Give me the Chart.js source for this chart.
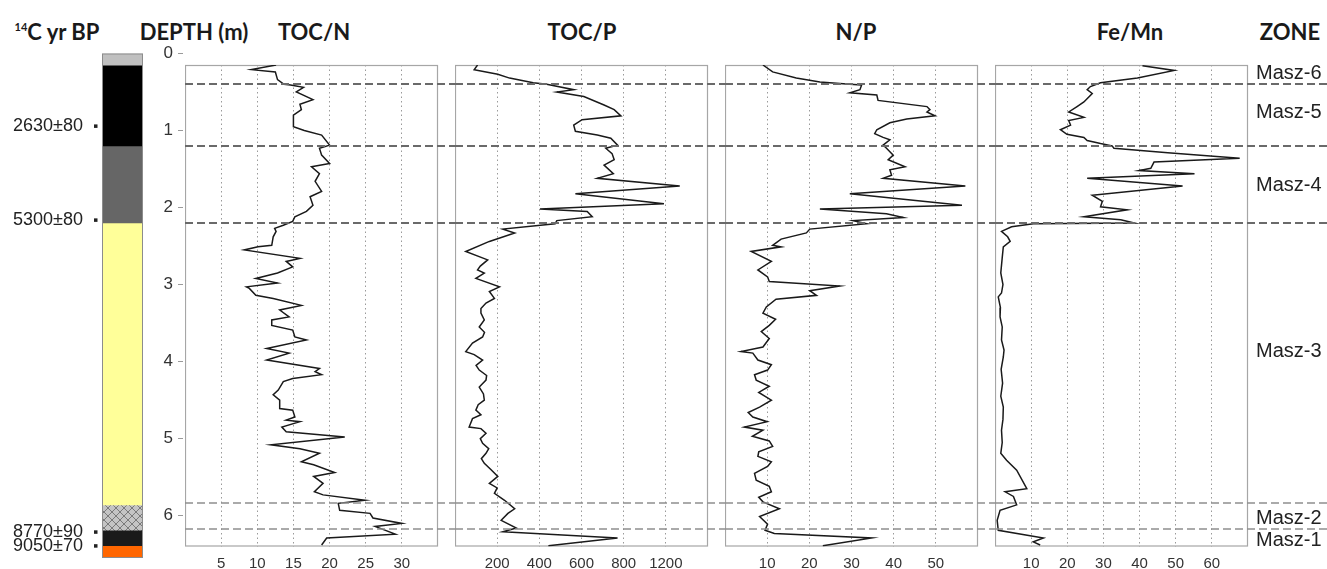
<!DOCTYPE html>
<html>
<head>
<meta charset="utf-8">
<script src="https://cdn.jsdelivr.net/npm/chart.js@4"></script>
<style>
  body { margin: 0; background: #fff; }
  #wrap { position: relative; width: 1327px; height: 569px; overflow: hidden; }
  canvas { position: absolute; top: 0; }
  .head { position: absolute; top: 21px; font: bold 22px Lato, sans-serif; line-height: 22px; color: #1a1a1a; white-space: nowrap; transform: translateX(-50%); }
  .head sup { font-size: 11px; vertical-align: 9px; line-height: 0; }
</style>
</head>
<body>
<div id="wrap">
  <div class="head" style="left:57px"><sup>14</sup>C yr BP</div>
  <div class="head" style="left:194px">DEPTH (m)</div>
  <div class="head" style="left:314px">TOC/N</div>
  <div class="head" style="left:582px">TOC/P</div>
  <div class="head" style="left:856px">N/P</div>
  <div class="head" style="left:1130px">Fe/Mn</div>
  <div class="head" style="left:1290px">ZONE</div>
  <canvas id="lith" width="150" height="569" style="left:0"></canvas>
  <canvas id="depthAxis" width="55" height="569" style="left:130px"></canvas>
  <canvas id="tocN" width="271" height="569" style="left:185px"></canvas>
  <canvas id="tocP" width="270" height="569" style="left:455px"></canvas>
  <canvas id="nP" width="270" height="569" style="left:725px"></canvas>
  <canvas id="feMn" width="332" height="569" style="left:995px"></canvas>
</div>
<script>
// depth in m, value
const tocNData = [
  [0.15, 12.6], [0.21, 9.2], [0.24, 12.5], [0.34, 12.8], [0.40, 13.7], [0.41, 14.6], [0.44, 16.4],
  [0.50, 15.4], [0.60, 17.7], [0.66, 15.9], [0.73, 16.1], [0.80, 15.0], [0.95, 15.0], [1.00, 16.5],
  [1.06, 18.9], [1.19, 20.0], [1.23, 18.6], [1.32, 18.9], [1.43, 20.0], [1.47, 17.5], [1.56, 18.6],
  [1.66, 18.0], [1.79, 18.9], [1.86, 17.3], [1.97, 17.7], [2.05, 16.8], [2.12, 15.2], [2.18, 14.9],
  [2.23, 13.6], [2.27, 12.4], [2.31, 12.6], [2.38, 12.2], [2.49, 12.0], [2.51, 10.1], [2.55, 8.2],
  [2.66, 15.9], [2.70, 14.0], [2.77, 14.9], [2.85, 12.8], [2.92, 9.8], [2.98, 12.8], [3.03, 8.5],
  [3.05, 8.9], [3.14, 9.8], [3.18, 12.2], [3.27, 16.1], [3.33, 13.1], [3.42, 14.4], [3.46, 12.0],
  [3.53, 12.0], [3.59, 14.9], [3.68, 15.2], [3.72, 16.8], [3.83, 11.3], [3.89, 14.4], [3.98, 11.3],
  [4.09, 18.6], [4.13, 18.0], [4.17, 18.9], [4.22, 14.9], [4.26, 13.6], [4.37, 12.9], [4.43, 12.2],
  [4.50, 13.1], [4.61, 13.1], [4.63, 14.9], [4.72, 15.2], [4.76, 14.0], [4.78, 15.9], [4.85, 13.4],
  [4.91, 14.0], [4.98, 22.1], [5.08, 11.9], [5.13, 15.9], [5.19, 18.6], [5.30, 16.1], [5.34, 17.8],
  [5.44, 20.7], [5.49, 17.8], [5.58, 19.1], [5.69, 17.9], [5.73, 19.1], [5.80, 24.9], [5.84, 21.2],
  [5.93, 21.4], [5.97, 25.6], [6.03, 26.0], [6.10, 30.0], [6.14, 26.3], [6.24, 29.1], [6.29, 19.6],
  [6.38, 18.9]
];

const tocPData = [
  [0.15, 107], [0.21, 91], [0.27, 203], [0.32, 259], [0.38, 371], [0.40, 435], [0.47, 563],
  [0.50, 483], [0.56, 611], [0.67, 707], [0.73, 755], [0.81, 787], [0.86, 603], [0.93, 563],
  [1.01, 571], [1.06, 675], [1.10, 739], [1.19, 771], [1.23, 715], [1.30, 745], [1.38, 755],
  [1.45, 707], [1.56, 751], [1.62, 675], [1.72, 1066], [1.82, 571], [1.95, 991], [2.02, 403],
  [2.05, 627], [2.12, 651], [2.17, 483], [2.21, 475], [2.28, 227], [2.33, 283], [2.44, 163],
  [2.57, 51], [2.68, 155], [2.76, 120], [2.81, 107], [2.85, 139], [2.92, 99], [3.03, 211],
  [3.09, 163], [3.18, 187], [3.24, 147], [3.31, 123], [3.37, 123], [3.46, 139], [3.55, 115],
  [3.62, 140], [3.68, 131], [3.76, 83], [3.87, 51], [3.91, 91], [3.98, 131], [4.05, 100],
  [4.11, 115], [4.18, 150], [4.24, 147], [4.33, 115], [4.42, 135], [4.50, 139], [4.56, 110],
  [4.63, 99], [4.69, 123], [4.74, 83], [4.85, 67], [4.87, 123], [4.93, 147], [5.00, 120],
  [5.06, 131], [5.13, 160], [5.19, 147], [5.26, 125], [5.32, 139], [5.40, 170], [5.49, 203],
  [5.58, 163], [5.64, 200], [5.71, 187], [5.80, 235], [5.91, 283], [5.97, 251], [6.06, 219],
  [6.16, 291], [6.21, 227], [6.29, 771], [6.39, 443]
];

const npData = [
  [0.15, 9.0], [0.24, 11.3], [0.32, 16.9], [0.37, 22.5], [0.40, 29.6], [0.41, 32.4], [0.47, 32.0],
  [0.51, 29.6], [0.54, 36.0], [0.61, 36.3], [0.69, 47.9], [0.73, 48.6], [0.76, 47.9], [0.81, 49.8],
  [0.85, 43.1], [0.90, 39.1], [0.99, 36.0], [1.04, 35.5], [1.09, 37.5], [1.12, 39.1], [1.19, 37.5],
  [1.23, 38.3], [1.32, 39.9], [1.38, 38.7], [1.47, 42.7], [1.51, 39.1], [1.58, 39.5], [1.62, 37.5],
  [1.72, 57.0], [1.82, 29.6], [1.97, 56.2], [2.02, 22.5], [2.08, 38.3], [2.13, 42.3], [2.17, 30.4],
  [2.21, 33.6], [2.28, 20.1], [2.33, 19.3], [2.41, 13.3], [2.49, 11.3], [2.51, 13.3], [2.57, 6.2],
  [2.70, 11.0], [2.81, 7.8], [2.90, 10.1], [2.96, 10.5], [3.02, 27.2], [3.08, 20.1], [3.14, 21.7],
  [3.19, 12.1], [3.29, 9.8], [3.37, 9.0], [3.45, 12.0], [3.53, 10.5], [3.61, 8.6], [3.70, 10.5],
  [3.81, 9.0], [3.87, 3.8], [3.89, 6.6], [3.98, 7.8], [4.04, 11.0], [4.11, 10.1], [4.17, 7.0],
  [4.24, 7.4], [4.32, 10.5], [4.40, 8.0], [4.50, 11.0], [4.59, 8.2], [4.66, 5.5], [4.72, 6.6],
  [4.78, 10.0], [4.85, 4.6], [4.89, 9.0], [4.97, 6.5], [5.03, 10.5], [5.10, 11.3], [5.17, 8.0],
  [5.23, 7.8], [5.30, 11.0], [5.36, 10.1], [5.45, 7.0], [5.54, 7.4], [5.62, 10.5], [5.69, 11.0],
  [5.76, 8.0], [5.82, 9.0], [5.91, 12.9], [6.01, 8.2], [6.11, 10.1], [6.19, 9.5], [6.23, 11.7],
  [6.29, 34.8], [6.39, 23.2]
];

const feMnData = [
  [0.16, 40.8], [0.22, 49.6], [0.32, 39.4], [0.38, 29.2], [0.43, 26.4], [0.47, 25.5], [0.52, 26.9],
  [0.63, 24.6], [0.69, 22.7], [0.76, 20.4], [0.83, 24.6], [0.87, 20.4], [0.93, 20.9], [0.99, 18.1],
  [1.05, 19.9], [1.09, 24.6], [1.13, 25.5], [1.17, 29.2], [1.20, 32.4], [1.23, 32.9], [1.29, 47.8],
  [1.36, 67.7], [1.41, 44.0], [1.49, 43.1], [1.52, 39.9], [1.56, 55.2], [1.62, 25.5], [1.72, 51.9],
  [1.84, 26.9], [1.92, 29.7], [1.99, 29.2], [2.03, 36.6], [2.12, 24.6], [2.16, 34.8], [2.20, 38.5],
  [2.21, 10.6], [2.25, 4.6], [2.31, 1.8], [2.38, 3.5], [2.44, 4.2], [2.51, 2.3], [2.65, 2.0],
  [2.85, 1.6], [3.00, 2.2], [3.11, 1.8], [3.16, 0.9], [3.30, 1.5], [3.42, 1.4], [3.55, 2.0],
  [3.72, 1.8], [3.85, 2.5], [3.94, 2.3], [4.10, 1.7], [4.28, 2.1], [4.45, 1.6], [4.59, 2.3],
  [4.75, 2.2], [4.89, 1.8], [5.05, 2.0], [5.19, 1.6], [5.28, 3.2], [5.41, 6.0], [5.65, 8.8],
  [5.69, 2.8], [5.75, 5.1], [5.86, 6.0], [5.93, 1.4], [6.06, 0.6], [6.19, 0.9], [6.29, 13.4],
  [6.34, 10.6], [6.38, 12.5]
];

const depthTicks = [0, 1, 2, 3, 4, 5, 6];
const tocNTicks = [5, 10, 15, 20, 25, 30];
const tocPTicks = [200, 400, 600, 800, 1000];
const tocPTickLabels = ['200', '400', '600', '800', '1200'];
const npTicks = [10, 20, 30, 40, 50];
const feMnTicks = [10, 20, 30, 40, 50, 60];

const zoneBounds = [0.4, 1.2, 2.2, 5.84, 6.17];
const zoneNames = ['Masz-6', 'Masz-5', 'Masz-4', 'Masz-3', 'Masz-2', 'Masz-1'];
const zoneLabelDepths = [0.26, 0.76, 1.71, 3.87, 6.03, 6.32];

const ageLabels = ['2630±80', '5300±80', '8770±90', '9050±70'];
const ageDepths = [0.94, 2.16, 6.21, 6.39];

const lithTop = [0, 0.15, 1.2, 2.2, 5.86, 6.19, 6.39];
const lithBase = [0.15, 1.2, 2.2, 5.86, 6.19, 6.39, 6.55];

Chart.defaults.font.family = '"Liberation Sans", Arial, sans-serif';

function hatchPattern() {
    const c = document.createElement('canvas');
    c.width = 8; c.height = 8;
    const g = c.getContext('2d');
    g.fillStyle = '#c4c4c4';
    g.fillRect(0, 0, 8, 8);
    g.strokeStyle = '#7a7a7a';
    g.lineWidth = 1;
    g.beginPath();
    g.moveTo(0, 0); g.lineTo(8, 8);
    g.moveTo(8, 0); g.lineTo(0, 8);
    g.stroke();
    return g.createPattern(c, 'repeat');
}

const lithFill = ['#c0c0c0', '#000000', '#666666', '#ffff99', hatchPattern(), '#1a1a1a', '#ff6600'];

// outline + age labels next to the core column
const agePlugin = {
    id: 'ages',
    afterDraw(chart) {
        const { ctx, chartArea, scales } = chart;
        ctx.save();
        ctx.strokeStyle = '#8c8c8c';
        ctx.lineWidth = 1;
        ctx.strokeRect(chartArea.left + 0.5, chartArea.top + 0.5, chartArea.width - 1, chartArea.height - 1);
        ctx.fillStyle = '#222';
        ctx.font = '18px "Liberation Sans", Arial, sans-serif';
        ctx.textAlign = 'right';
        ctx.textBaseline = 'middle';
        ageLabels.forEach((label, i) => {
            const y = scales.y.getPixelForValue(ageDepths[i]);
            ctx.fillText(label, 83, y);
            ctx.fillRect(94, y - 1.5, 3.5, 3.5);
        });
        ctx.restore();
    }
};

new Chart(document.getElementById('lith').getContext('2d'), {
    type: 'bar',
    data: {
        labels: ['core'],
        datasets: lithTop.map((top, i) => ({
            data: [[top, lithBase[i]]],
            backgroundColor: lithFill[i],
            borderWidth: 0,
            grouped: false,
            barPercentage: 1,
            categoryPercentage: 1
        }))
    },
    options: {
        responsive: false,
        animation: false,
        devicePixelRatio: 1,
        layout: { padding: { left: 102, right: 7, top: 53.5, bottom: 11 } },
        plugins: { legend: { display: false }, tooltip: { enabled: false } },
        scales: {
            x: { display: false },
            y: { display: false, reverse: true, min: 0, max: 6.55 }
        }
    },
    plugins: [agePlugin]
});

// depth axis only
new Chart(document.getElementById('depthAxis').getContext('2d'), {
    type: 'line',
    data: { datasets: [] },
    options: {
        responsive: false,
        animation: false,
        devicePixelRatio: 1,
        layout: { padding: { left: 0, right: 0, top: 53.5, bottom: 22.5 } },
        plugins: { legend: { display: false }, tooltip: { enabled: false } },
        scales: {
            x: { type: 'linear', display: false },
            y: {
                type: 'linear',
                position: 'left',
                reverse: true,
                min: 0,
                max: 6.4,
                afterBuildTicks: s => { s.ticks = depthTicks.map(v => ({ value: v })); },
                afterFit: s => { s.width = 53; },
                grid: { drawOnChartArea: false, tickLength: 5, color: '#9a9a9a' },
                border: { display: false },
                ticks: { padding: 5, color: '#333', font: { size: 17 } }
            }
        }
    }
});

const framePlugin = {
    id: 'frame',
    beforeDatasetsDraw(chart) {
        const { ctx, chartArea } = chart;
        ctx.save();
        ctx.strokeStyle = '#a6a6a6';
        ctx.lineWidth = 1.2;
        ctx.strokeRect(chartArea.left + 0.5, chartArea.top + 0.5, chartArea.width - 1, chartArea.height - 1);
        ctx.restore();
    }
};

const zoneLinePlugin = {
    id: 'zoneLines',
    afterDraw(chart) {
        const { ctx, scales } = chart;
        ctx.save();
        ctx.setLineDash([8, 4]);
        zoneBounds.forEach((d, i) => {
            const y = Math.round(scales.y.getPixelForValue(d));
            ctx.strokeStyle = i < 3 ? '#6a6a6a' : '#8e8e8e';
            ctx.lineWidth = i < 3 ? 2 : 1.6;
            ctx.beginPath();
            ctx.moveTo(0, y);
            ctx.lineTo(chart.width, y);
            ctx.stroke();
        });
        ctx.restore();
    }
};

const zoneLabelPlugin = {
    id: 'zoneLabels',
    afterDraw(chart) {
        const { ctx, chartArea, scales } = chart;
        ctx.save();
        ctx.fillStyle = '#222';
        ctx.font = '20px "Liberation Sans", Arial, sans-serif';
        ctx.textAlign = 'left';
        ctx.textBaseline = 'middle';
        zoneNames.forEach((name, i) => {
            ctx.fillText(name, chartArea.right + 8, scales.y.getPixelForValue(zoneLabelDepths[i]));
        });
        ctx.restore();
    }
};

function createPanel(id, profile, xMax, ticks, tickLabels, rightPad, extra = []) {
    const ctx = document.getElementById(id).getContext('2d');
    new Chart(ctx, {
        type: 'line',
        data: {
            datasets: [{
                data: profile.map(p => ({ x: p[1], y: p[0] })),
                borderColor: '#1a1a1a',
                borderWidth: 1.5,
                pointRadius: 0,
                tension: 0,
                fill: false
            }]
        },
        options: {
            responsive: false,
            animation: false,
            devicePixelRatio: 1,
            layout: { padding: { left: 0, right: rightPad, top: 65, bottom: 0 } },
            plugins: { legend: { display: false }, tooltip: { enabled: false } },
            scales: {
                x: {
                    type: 'linear',
                    min: 0,
                    max: xMax,
                    afterBuildTicks: s => { s.ticks = ticks.map(v => ({ value: v })); },
                    afterFit: s => { s.height = 22.5; },
                    grid: { color: '#9a9a9a', lineWidth: 1, drawTicks: false },
                    border: { display: false, dash: [1.5, 3] },
                    ticks: {
                        padding: 8,
                        maxRotation: 0,
                        autoSkip: false,
                        color: '#333',
                        font: { size: 15 },
                        callback: (v, i) => tickLabels[i]
                    }
                },
                y: { type: 'linear', display: false, reverse: true, min: 0.15, max: 6.4 }
            }
        },
        plugins: [framePlugin, zoneLinePlugin, ...extra]
    });
}

createPanel('tocN', tocNData, 35, tocNTicks, tocNTicks.map(String), 18);
createPanel('tocP', tocPData, 1200, tocPTicks, tocPTickLabels, 17);
createPanel('nP', npData, 60, npTicks, npTicks.map(String), 17);
createPanel('feMn', feMnData, 70, feMnTicks, feMnTicks.map(String), 79, [zoneLabelPlugin]);
</script>
</body>
</html>
